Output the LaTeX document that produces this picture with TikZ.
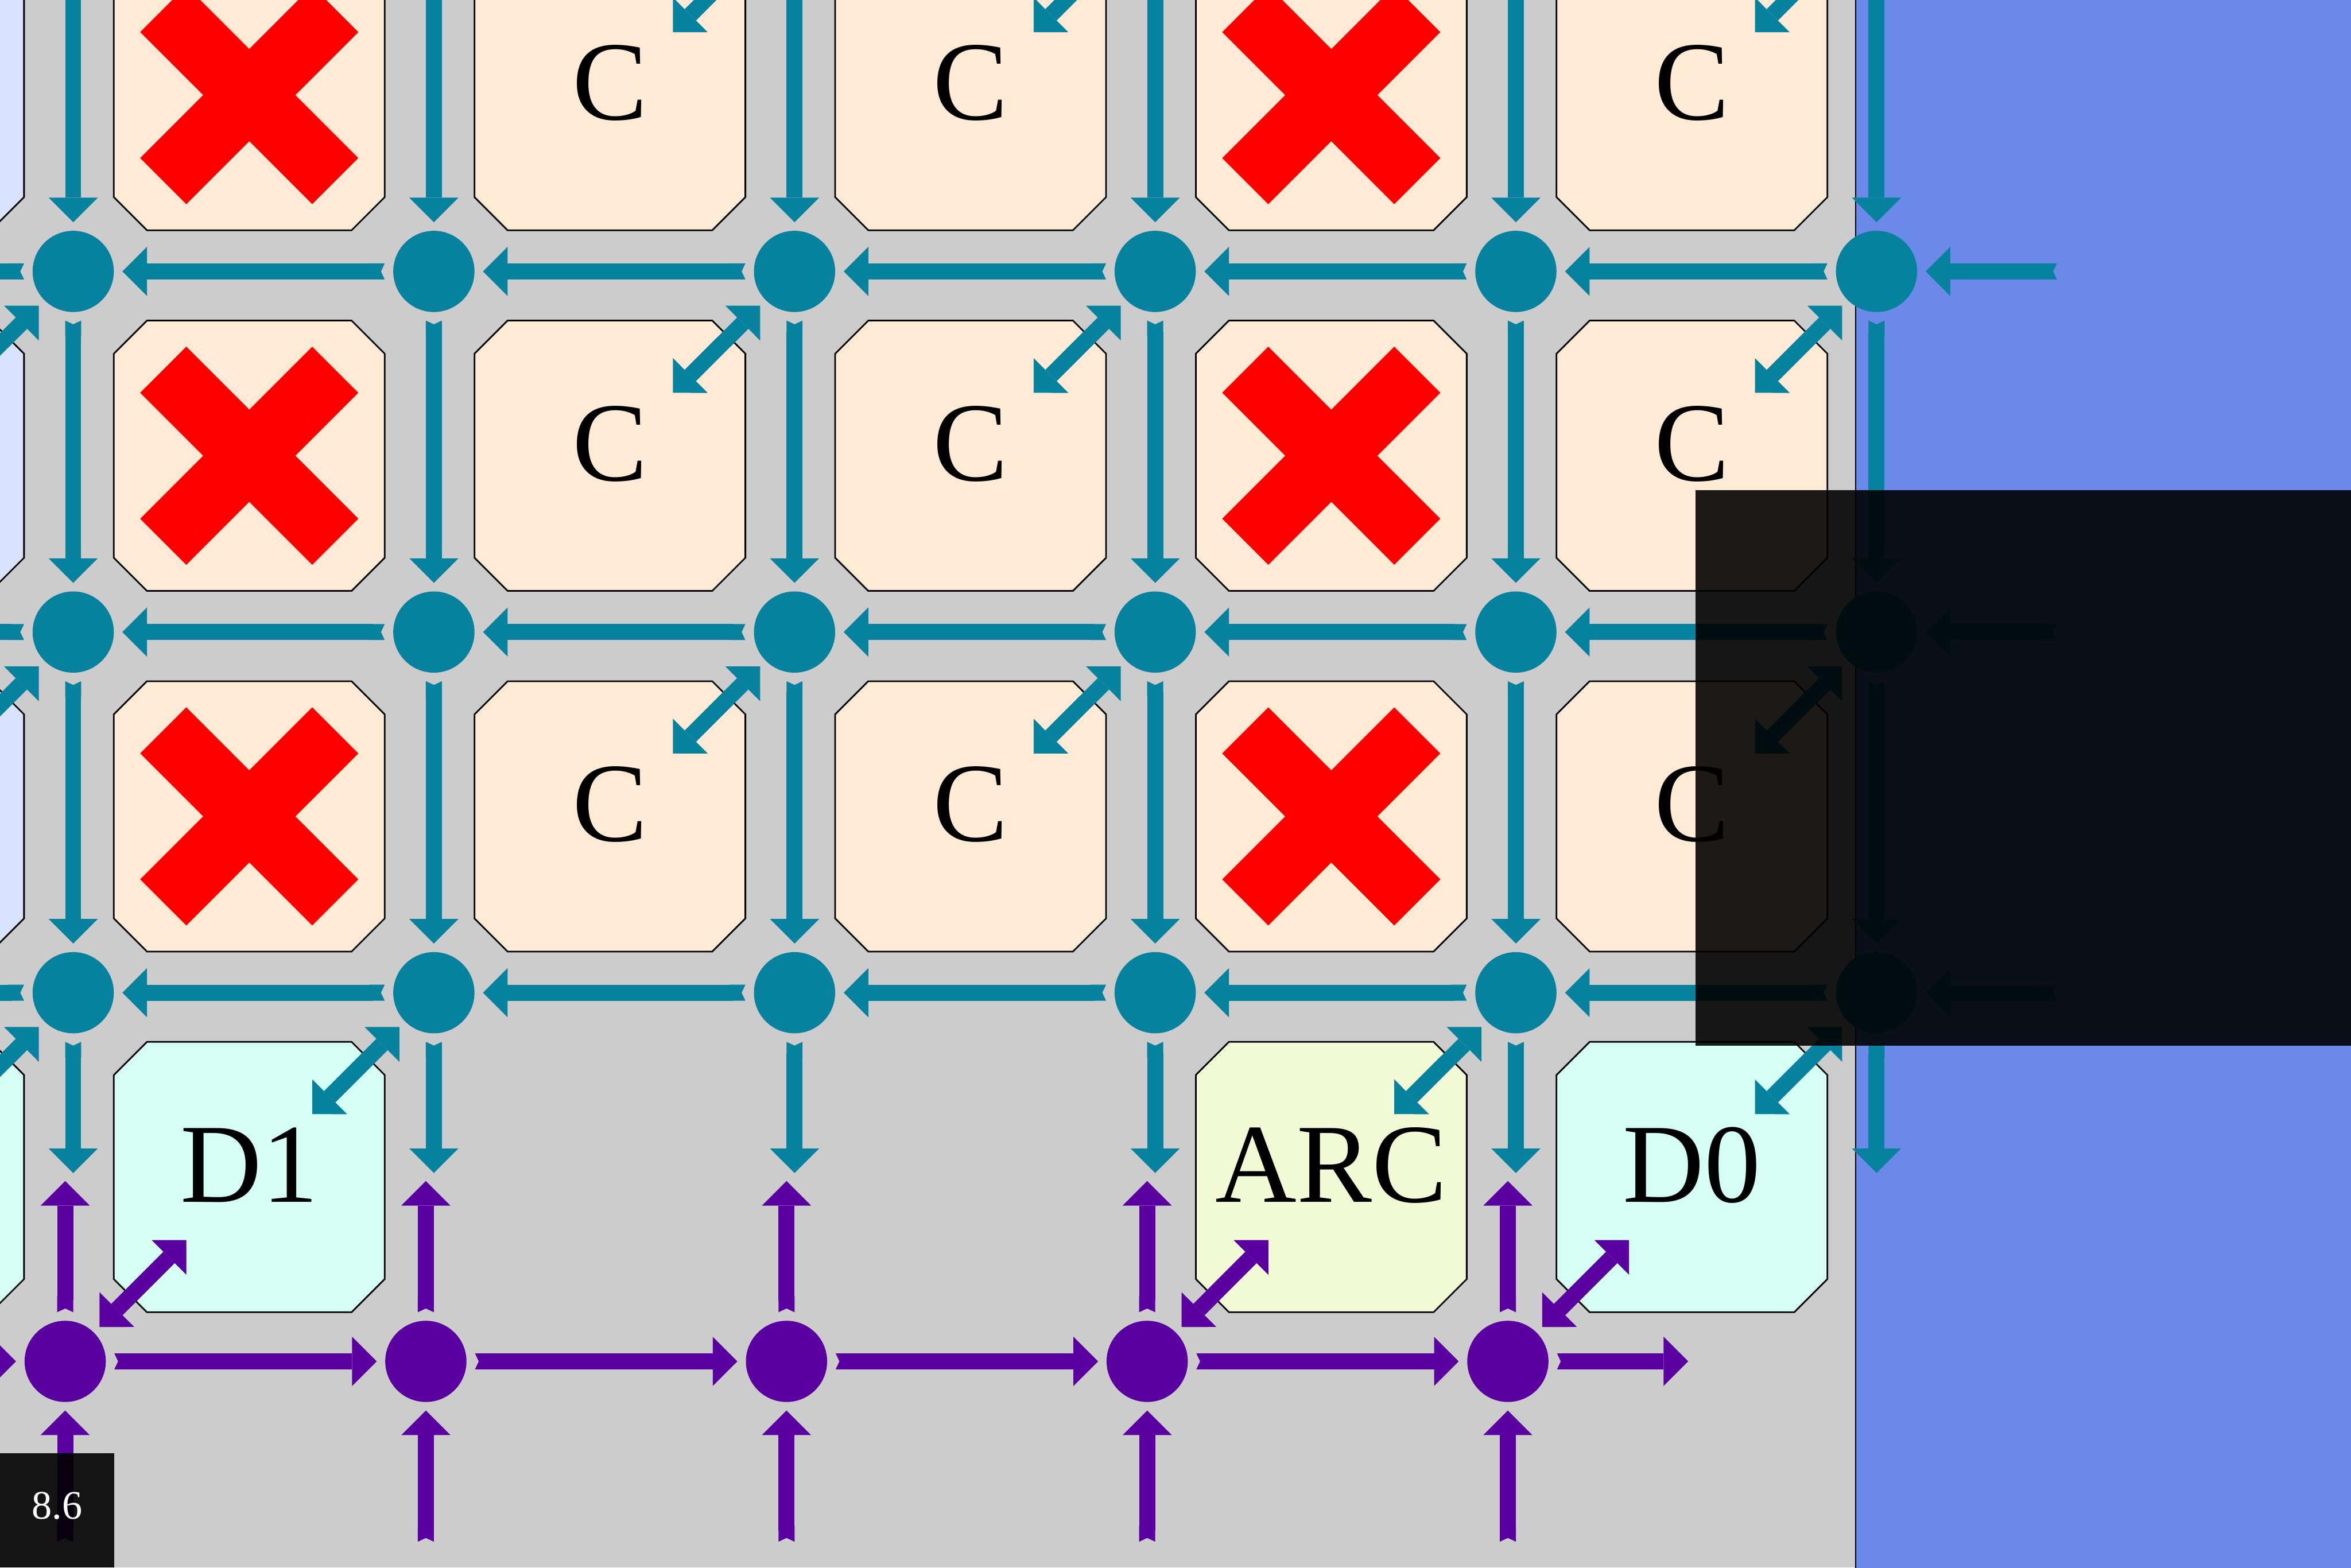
\documentclass[tikz,border=0pt]{standalone}
\usepackage{fontspec}
\setmainfont{Liberation Serif}
\usetikzlibrary{arrows.meta, shapes.misc}

\definecolor{linkteal}{HTML}{07829E}
\definecolor{linkpurple}{HTML}{5A00A0}
\definecolor{boardgray}{HTML}{CCCCCC}
\definecolor{corebeige}{HTML}{FFEBD5}
\definecolor{arcgreen}{HTML}{F2FAD5}
\definecolor{dmcyan}{HTML}{D5FFF5}
\definecolor{edgeblue}{HTML}{D9E3FF}
\definecolor{hostblue}{HTML}{6A89E8}

\begin{document}
\begin{tikzpicture}[
    tile/.style={rectangle, minimum width=51.1mm, minimum height=51mm, inner sep=0pt, font=\fontsize{60}{60}\selectfont, text height=13.9mm, text depth=4.6mm,
      path picture={\filldraw[fill=#1, line width=0.3mm]
        ([shift={(0.02,-0.64)}]path picture bounding box.north west) -- ([shift={(0.64,-0.02)}]path picture bounding box.north west)
        -- ([shift={(-0.64,-0.02)}]path picture bounding box.north east) -- ([shift={(-0.02,-0.64)}]path picture bounding box.north east)
        -- ([shift={(-0.02,0.64)}]path picture bounding box.south east) -- ([shift={(-0.64,0.02)}]path picture bounding box.south east)
        -- ([shift={(0.64,0.02)}]path picture bounding box.south west) -- ([shift={(0.02,0.64)}]path picture bounding box.south west) -- cycle;}},
    core/.style={tile=corebeige},
    bad/.style={cross out, draw=red, line width=12.2mm, minimum size=32.2mm, inner sep=0pt, outer sep=0pt},
    tnode/.style={circle, fill=linkteal, minimum size=15.2mm, inner sep=0pt, outer sep=0pt},
    pnode/.style={circle, fill=linkpurple, minimum size=15.2mm, inner sep=0pt, outer sep=0pt},
    link/.style={line width=3mm, {Triangle Cap[reversed, length=0.7mm]}-{Triangle[length=4.6mm, width=9.2mm, line width=0pt]}},
    dual/.style={line width=3mm, {Triangle[length=4.6mm, width=9.2mm, line width=0pt]}-{Triangle[length=4.6mm, width=9.2mm, line width=0pt]}, shorten <=1.5mm, shorten >=16.66mm},
    gap/.style={shorten <=1.6mm, shorten >=1.6mm},
]
\useasboundingbox (0,0) rectangle (44,-29.34);
\clip (0,0) rectangle (44,-29.34);
\fill[boardgray] (0,0) rectangle (44,-29.34);
\filldraw[fill=hostblue, draw=black, line width=0.25mm] (34.73,0.5) rectangle (44.5,-29.84);

% tiles
\foreach \r in {0,1,2} {
  \node[tile=edgeblue] (L\r) at (-2.085, {-1.78-6.75*\r}) {};
  \foreach \c/\txt in {0/,1/C,2/C,3/,4/C}
    \node[core] (T\c\r) at ({4.665+6.75*\c}, {-1.78-6.75*\r}) {\txt};
  \node[bad] (X0\r) at (T0\r) {};
  \node[bad] (X3\r) at (T3\r) {};
}
\node[tile=dmcyan] (L3) at (-2.085, -22.03) {};
\node[tile=dmcyan] (D1) at (4.665, -22.03) {D1};
\node[tile=arcgreen] (ARC) at (24.915, -22.03) {ARC};
\node[tile=dmcyan] (D0) at (31.665, -22.03) {D0};

% teal mesh
\foreach \k in {0,...,5} {
  \coordinate (top\k) at ({1.37+6.75*\k}, 1.67);
  \coordinate (end\k) at ({1.37+6.75*\k}, -21.955);
  \foreach \r in {0,1,2}
    \node[tnode] (t\k\r) at ({1.37+6.75*\k}, {-5.08-6.75*\r}) {};
}
\foreach \r in {0,1,2} {
  \coordinate (west\r) at (-2.005, {-5.08-6.75*\r});
  \coordinate (east\r) at (38.495, {-5.08-6.75*\r});
}
\foreach \k in {0,...,5} {
  \draw[link, linkteal, shorten <=9.2mm, shorten >=1.6mm] (top\k) -- (t\k0);
  \draw[link, linkteal, gap] (t\k0) -- (t\k1);
  \draw[link, linkteal, gap] (t\k1) -- (t\k2);
  \draw[link, linkteal, shorten <=1.6mm] (t\k2) -- (end\k);
}
\foreach \r in {0,1,2} {
  \draw[link, linkteal, shorten >=1.6mm] (east\r) -- (t5\r);
  \draw[link, linkteal, shorten <=1.6mm] (t0\r) -- (west\r);
  \foreach \k/\j in {1/0,2/1,3/2,4/3,5/4}
    \draw[link, linkteal, gap] (t\k\r) -- (t\j\r);
}
\foreach \c/\n in {1/2,2/3,4/5} {
  \draw[dual, linkteal, shorten <=9.1mm] (top\n) -- (T\c0.center);
  \draw[dual, linkteal] (t\n0) -- (T\c1.center);
  \draw[dual, linkteal] (t\n1) -- (T\c2.center);
}
\draw[dual, linkteal] (t00) -- (L1.center);
\draw[dual, linkteal] (t01) -- (L2.center);
\draw[dual, linkteal] (t02) -- (L3.center);
\draw[dual, linkteal] (t12) -- (D1.center);
\draw[dual, linkteal] (t42) -- (ARC.center);
\draw[dual, linkteal] (t52) -- (D0.center);

% purple mesh
\foreach \k in {0,...,4} {
  \node[pnode] (p\k) at ({1.22+6.75*\k}, -25.48) {};
  \coordinate (up\k) at ({1.22+6.75*\k}, -22.105);
  \coordinate (low\k) at ({1.22+6.75*\k}, -28.855);
}
\coordinate (pwest) at (-2.155, -25.48);
\coordinate (peast) at (31.595, -25.48);
\foreach \k in {0,...,4} {
  \draw[link, linkpurple, shorten <=1.6mm] (p\k) -- (up\k);
  \draw[link, linkpurple, shorten >=1.6mm] (low\k) -- (p\k);
}
\draw[link, linkpurple, shorten >=1.6mm] (pwest) -- (p0);
\foreach \k/\j in {0/1,1/2,2/3,3/4}
  \draw[link, linkpurple, gap] (p\k) -- (p\j);
\draw[link, linkpurple, shorten <=1.6mm] (p4) -- (peast);
\draw[dual, linkpurple] (p0) -- (D1.center);
\draw[dual, linkpurple] (p3) -- (ARC.center);
\draw[dual, linkpurple] (p4) -- (D0.center);

\fill[black, opacity=0.89] (31.73,-9.17) rectangle (44.5,-19.57);
\node[fill=black, fill opacity=0.9, text opacity=1, text=white, minimum size=21.4mm, inner sep=0pt, font=\fontsize{21.5}{26}\selectfont, text height=5mm, text depth=1.8mm] (pagenum) at (1.07,-28.27) {8.6};
\end{tikzpicture}
\end{document}
